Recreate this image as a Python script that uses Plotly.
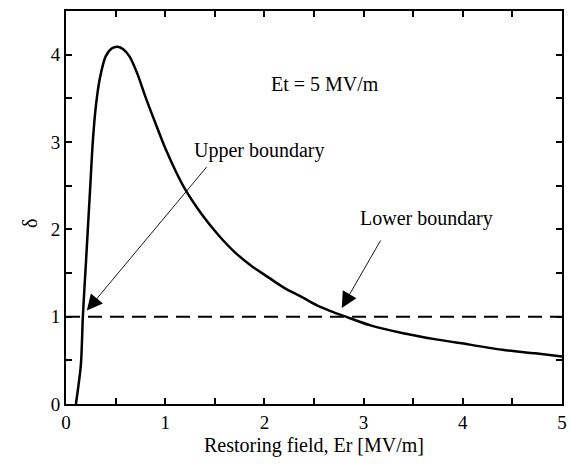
import plotly.graph_objects as go

# Curve
er = [0.10, 0.15, 0.17, 0.20, 0.22, 0.245, 0.27, 0.30, 0.34, 0.40, 0.46, 0.52, 0.58, 0.64,
      0.72, 0.80, 0.90, 1.00, 1.10, 1.20, 1.37, 1.54, 1.70, 1.87, 2.04, 2.20, 2.37,
      2.53, 2.70, 2.82, 3.07, 3.40, 3.73, 4.07, 4.40, 4.73, 5.00]
delta = [0.00, 0.45, 1.00, 1.60, 2.00, 2.50, 3.00, 3.40, 3.72, 3.98, 4.07, 4.09, 4.06, 3.98,
         3.78, 3.52, 3.22, 2.93, 2.68, 2.46, 2.17, 1.93, 1.74, 1.58, 1.45, 1.33, 1.23,
         1.13, 1.05, 1.00, 0.90, 0.81, 0.74, 0.68, 0.62, 0.58, 0.545]

ref_x = [0, 5]
ref_y = [1, 1]

x_ticks = [0, 1, 2, 3, 4, 5]
y_ticks = [0, 1, 2, 3, 4]

font_family = "Liberation Serif, Times New Roman, serif"

fig = go.Figure()
fig.add_trace(go.Scatter(x=ref_x, y=ref_y, mode="lines",
                         line=dict(color="black", width=2, dash="14px,8px"),
                         showlegend=False, hoverinfo="skip"))
fig.add_trace(go.Scatter(x=er, y=delta, mode="lines",
                         line=dict(color="black", width=2.5, shape="spline", smoothing=0.8),
                         showlegend=False))

axis_common = dict(
    showline=True, linecolor="black", linewidth=2, mirror="ticks",
    ticks="inside", ticklen=6, tickwidth=1.5, tickcolor="black",
    showgrid=False, zeroline=False,
    tickfont=dict(family=font_family, size=19, color="black"),
    minor=dict(ticks="inside", ticklen=6, tickwidth=1.5, tickcolor="black", dtick=0.5, showgrid=False),
)

fig.update_xaxes(range=[0, 5], tickvals=x_ticks, ticktext=[str(v) for v in x_ticks],
                 title=dict(text="Restoring field, Er [MV/m]",
                            font=dict(family=font_family, size=20, color="black"), standoff=6),
                 **axis_common)
fig.update_yaxes(range=[0, 4.5], tickvals=y_ticks, ticktext=[str(v) for v in y_ticks],
                 **axis_common)

# y-axis title (sits a little below centre in the reference)
fig.add_annotation(xref="paper", yref="paper", x=0, y=0.458, xshift=-49, textangle=-90,
                   text="δ", showarrow=False,
                   font=dict(family=font_family, size=20, color="black"))

txt = dict(family=font_family, size=20, color="black")
fig.add_annotation(x=2.61, y=3.66, text="Et = 5 MV/m", showarrow=False, font=txt)
fig.add_annotation(x=1.95, y=2.90, text="Upper boundary", showarrow=False, font=txt)
fig.add_annotation(x=3.63, y=2.12, text="Lower boundary", showarrow=False, font=txt)

arrow = dict(showarrow=True, arrowhead=2, arrowsize=3.5, arrowwidth=0.9, arrowcolor="black",
             axref="x", ayref="y", text="")
fig.add_annotation(x=0.21, y=1.07, ax=1.43, ay=2.73, **arrow)
fig.add_annotation(x=2.78, y=1.10, ax=3.18, ay=1.89, **arrow)

fig.update_layout(
    width=571, height=468,
    margin=dict(l=66, r=4, t=11, b=64),
    paper_bgcolor="white", plot_bgcolor="white",
)

fig.write_html("out.html")
